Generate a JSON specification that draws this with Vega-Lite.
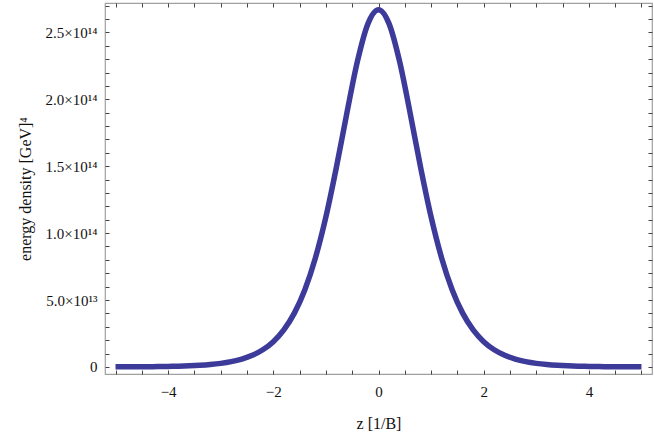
{
  "$schema": "https://vega.github.io/schema/vega-lite/v6.json",
  "autosize": "none",
  "width": 547,
  "height": 371,
  "padding": {"left": 105, "top": 3, "right": 2, "bottom": 62},
  "background": "white",
  "config": {
    "view": {"stroke": "#a0a0a0", "strokeWidth": 1.2},
    "axis": {"grid": false, "labelFont": "Liberation Serif", "titleFont": "Liberation Serif", "labelFontSize": 15, "titleFontSize": 16, "labelColor": "#111", "titleColor": "#111", "titleFontWeight": "normal", "domain": false}
  },
  "data": {"values": [
    {"z": -5.0, "e": 0.0005e14}, {"z": -4.8, "e": 0.0007e14}, {"z": -4.6, "e": 0.0011e14}, {"z": -4.4, "e": 0.0016e14},
    {"z": -4.2, "e": 0.0024e14}, {"z": -4.0, "e": 0.0036e14}, {"z": -3.8, "e": 0.0053e14}, {"z": -3.6, "e": 0.0080e14},
    {"z": -3.4, "e": 0.0119e14}, {"z": -3.2, "e": 0.0177e14}, {"z": -3.0, "e": 0.0263e14}, {"z": -2.8, "e": 0.0392e14},
    {"z": -2.6, "e": 0.0583e14}, {"z": -2.4, "e": 0.0865e14}, {"z": -2.2, "e": 0.1280e14}, {"z": -2.0, "e": 0.1886e14},
    {"z": -1.8, "e": 0.2765e14}, {"z": -1.6, "e": 0.4019e14}, {"z": -1.4, "e": 0.5771e14}, {"z": -1.2, "e": 0.8144e14},
    {"z": -1.0, "e": 1.121e14}, {"z": -0.8, "e": 1.493e14}, {"z": -0.6, "e": 1.900e14}, {"z": -0.4, "e": 2.285e14},
    {"z": -0.2, "e": 2.566e14}, {"z": 0.0, "e": 2.67e14}, {"z": 0.2, "e": 2.566e14}, {"z": 0.4, "e": 2.285e14},
    {"z": 0.6, "e": 1.900e14}, {"z": 0.8, "e": 1.493e14}, {"z": 1.0, "e": 1.121e14}, {"z": 1.2, "e": 0.8144e14},
    {"z": 1.4, "e": 0.5771e14}, {"z": 1.6, "e": 0.4019e14}, {"z": 1.8, "e": 0.2765e14}, {"z": 2.0, "e": 0.1886e14},
    {"z": 2.2, "e": 0.1280e14}, {"z": 2.4, "e": 0.0865e14}, {"z": 2.6, "e": 0.0583e14}, {"z": 2.8, "e": 0.0392e14},
    {"z": 3.0, "e": 0.0263e14}, {"z": 3.2, "e": 0.0177e14}, {"z": 3.4, "e": 0.0119e14}, {"z": 3.6, "e": 0.0080e14},
    {"z": 3.8, "e": 0.0053e14}, {"z": 4.0, "e": 0.0036e14}, {"z": 4.2, "e": 0.0024e14}, {"z": 4.4, "e": 0.0016e14},
    {"z": 4.6, "e": 0.0011e14}, {"z": 4.8, "e": 0.0007e14}, {"z": 5.0, "e": 0.0005e14}
  ]},
  "resolve": {"scale": {"x": "independent", "y": "independent"}, "axis": {"x": "independent", "y": "independent"}},
  "layer": [
    {
      "mark": {"type": "line", "strokeOpacity": 0},
      "encoding": {
        "x": {"field": "z", "type": "quantitative", "scale": {"domain": [-5.2, 5.2], "nice": false, "zero": false},
              "axis": {"orient": "top", "values": [-5, -4.5, -4, -3.5, -3, -2.5, -2, -1.5, -1, -0.5, 0, 0.5, 1, 1.5, 2, 2.5, 3, 3.5, 4, 4.5, 5],
                       "offset": -4, "tickSize": 4, "tickColor": "#444", "tickWidth": 1,
                       "labels": false, "title": null}},
        "y": {"field": "e", "type": "quantitative", "scale": {"domain": [-5.3e12, 2.72e14], "nice": false, "zero": false},
              "axis": {"orient": "right", "values": [0, 1e13, 2e13, 3e13, 4e13, 5e13, 6e13, 7e13, 8e13, 9e13, 1e14, 1.1e14, 1.2e14, 1.3e14, 1.4e14, 1.5e14, 1.6e14, 1.7e14, 1.8e14, 1.9e14, 2e14, 2.1e14, 2.2e14, 2.3e14, 2.4e14, 2.5e14, 2.6e14, 2.7e14],
                       "offset": -4, "tickSize": 4, "tickColor": "#444", "tickWidth": 1,
                       "labels": false, "title": null}}
      }
    },
    {
      "mark": {"type": "line", "color": "#3d3b99", "strokeWidth": 5.5, "interpolate": "monotone", "strokeCap": "butt"},
      "encoding": {
        "x": {"field": "z", "type": "quantitative", "scale": {"domain": [-5.2, 5.2], "nice": false, "zero": false},
              "axis": {"orient": "bottom", "values": [-5, -4.5, -4, -3.5, -3, -2.5, -2, -1.5, -1, -0.5, 0, 0.5, 1, 1.5, 2, 2.5, 3, 3.5, 4, 4.5, 5],
                       "offset": -4, "tickSize": 4, "tickColor": "#444", "tickWidth": 1,
                       "labelPadding": 10, "title": "z [1/B]", "titlePadding": 16,
                       "labelExpr": "datum.value % 2 != 0 || abs(datum.value) > 4.5 ? '' : (datum.value < 0 ? '\u2212' + format(-datum.value, 'd') : format(datum.value, 'd'))"}},
        "y": {"field": "e", "type": "quantitative", "scale": {"domain": [-5.3e12, 2.72e14], "nice": false, "zero": false},
              "axis": {"orient": "left", "values": [0, 1e13, 2e13, 3e13, 4e13, 5e13, 6e13, 7e13, 8e13, 9e13, 1e14, 1.1e14, 1.2e14, 1.3e14, 1.4e14, 1.5e14, 1.6e14, 1.7e14, 1.8e14, 1.9e14, 2e14, 2.1e14, 2.2e14, 2.3e14, 2.4e14, 2.5e14, 2.6e14, 2.7e14],
                       "offset": -4, "tickSize": 4, "tickColor": "#444", "tickWidth": 1,
                       "labelPadding": 8, "title": "energy density [GeV]\u2074", "titlePadding": 12,
                       "labelExpr": "datum.value % 5e13 != 0 ? '' : (datum.value == 0 ? '0' : (datum.value < 1e14 ? format(datum.value / 1e13, '.1f') + '\u00d710\u00b9\u00b3' : format(datum.value / 1e14, '.1f') + '\u00d710\u00b9\u2074'))"}}
      }
    }
  ]
}
